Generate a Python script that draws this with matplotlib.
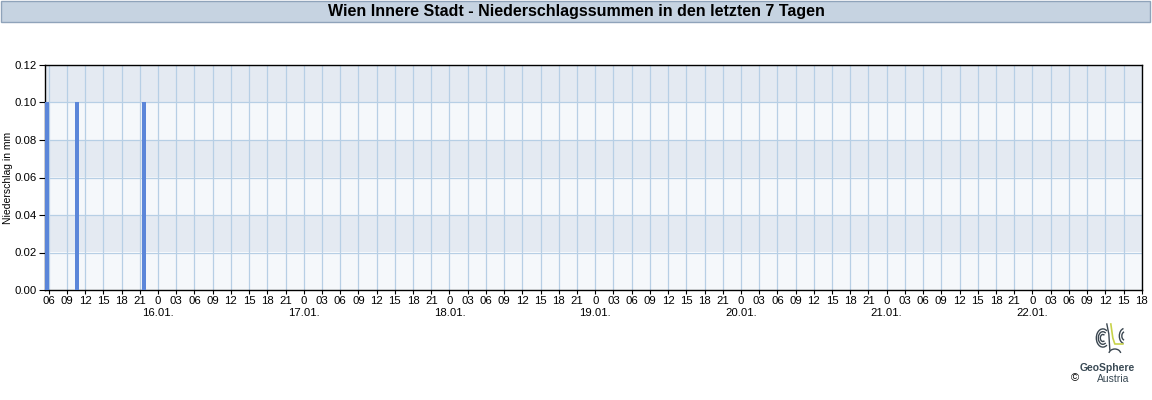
import matplotlib
matplotlib.use("Agg")
import matplotlib.pyplot as plt
import matplotlib.transforms as mtransforms
from matplotlib.patches import Rectangle, Arc

plt.rcParams['font.family'] = ['Liberation Sans', 'DejaVu Sans']

# ---- data (hours since 15.01. 00:00, end of hourly interval) ----
bar_hours = [6, 11, 22]
bar_values = [0.1, 0.1, 0.1]
dates = ["16.01.", "17.01.", "18.01.", "19.01.", "20.01.", "21.01.", "22.01."]
date_hours = [24, 48, 72, 96, 120, 144, 168]
y_ticks = [0.00, 0.02, 0.04, 0.06, 0.08, 0.10, 0.12]
title = "Wien Innere Stadt - Niederschlagssummen in den letzten 7 Tagen"
y_label = "Niederschlag in mm"

x_start, x_end = 5.34, 186.0
tick_hours = list(range(6, 187, 3))

fig = plt.figure(figsize=(11.52, 4.0), dpi=100)

# title bar
fig.patches.append(Rectangle((0.0005, 0.946), 0.9975, 0.0525, transform=fig.transFigure,
                             facecolor="#c6d3e1", edgecolor="#8fa3ba", linewidth=1.0))
fig.text(0.5, 0.971, title, ha="center", va="center", fontsize=11.5, fontweight="bold", color="#000000")

ax = fig.add_axes([0.0388, 0.275, 0.9523, 0.5625])
ax.set_xlim(x_start, x_end)
ax.set_ylim(0, 0.12)

# alternating bands
for i in range(len(y_ticks) - 1):
    col = "#f5f8fb" if i % 2 == 0 else "#e4eaf2"
    ax.axhspan(y_ticks[i], y_ticks[i + 1], color=col, zorder=0, linewidth=0)

for h in tick_hours:
    ax.axvline(h, color="#b7cfe5", linewidth=0.9, zorder=1)
for y in y_ticks[1:-1]:
    ax.axhline(y, color="#b7cfe5", linewidth=0.9, zorder=1)

ax.bar(bar_hours, bar_values, width=-0.66, align="edge", color="#5b86d9", zorder=3, linewidth=0)

labels = []
for h in tick_hours:
    hh = h % 24
    labels.append("0" if hh == 0 else "%02d" % hh)
ax.set_xticks(tick_hours)
ax.set_xticklabels(labels, fontsize=8.2)

# date labels below midnight ticks
trans = mtransforms.blended_transform_factory(ax.transData, fig.transFigure)
for h, d in zip(date_hours, dates):
    ax.text(h, 0.218, d, transform=trans, ha="center", va="center", fontsize=8.2, clip_on=False)

ax.set_yticks(y_ticks)
ax.set_yticklabels(["%.2f" % v for v in y_ticks], fontsize=8.2)
ax.tick_params(axis="both", which="major", length=4, width=0.8, pad=1.5, color="#000000")
ax.tick_params(axis="x", which="major", length=3, pad=1)
for s in ax.spines.values():
    s.set_color("#000000")
    s.set_linewidth(1.0)
ax.set_ylabel(y_label, fontsize=7.5, labelpad=4)
ax.yaxis.set_label_coords(-0.029, 0.5)

# GeoSphere logo (approximation)
lax = fig.add_axes([0.937, 0.095, 0.058, 0.1])
lax.set_xlim(-1, 1)
lax.set_ylim(-1, 1)
lax.set_aspect("equal")
lax.axis("off")
for r in (0.25, 0.45, 0.65):
    lax.add_patch(Arc((-0.5, 0.2), r, r * 1.4, theta1=60, theta2=300, color="#3a4650", lw=1.0))
for r in (0.3, 0.55):
    lax.add_patch(Arc((0.6, 0.3), r, r * 1.4, theta1=100, theta2=260, color="#3a4650", lw=1.0))
lax.add_patch(Arc((0.1, -0.6), 0.6, 0.5, theta1=10, theta2=170, color="#3a4650", lw=1.0))
lax.plot([-0.1, 0.0, 0.1, 0.5], [0.9, 0.2, -0.1, -0.1], color="#c8d34a", lw=1.2)
lax.plot([-0.3, -0.2, -0.15], [0.9, 0.4, -0.4], color="#3a4650", lw=1.0)

fig.text(0.961, 0.08, "GeoSphere", ha="center", va="center", fontsize=7.5, fontweight="bold", color="#3a4a55")
fig.text(0.966, 0.052, "Austria", ha="center", va="center", fontsize=7.5, color="#3a4a55")
fig.text(0.933, 0.054, "\u00a9", ha="center", va="center", fontsize=8, color="#000000")

fig.savefig("out.png", dpi=100)
